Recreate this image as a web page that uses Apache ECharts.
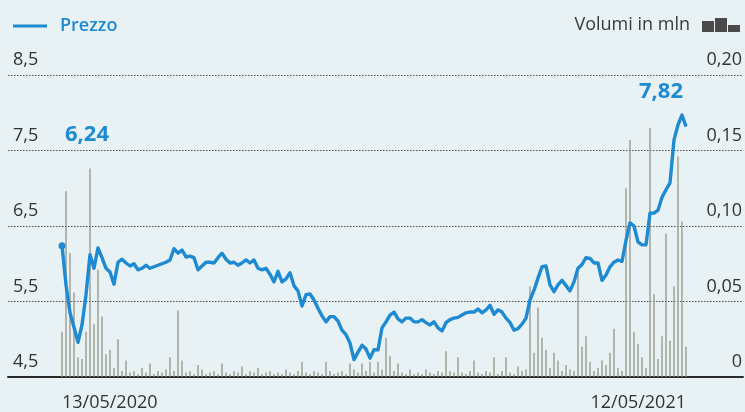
<!DOCTYPE html>
<html>
<head>
<meta charset="utf-8">
<script src="https://cdn.jsdelivr.net/npm/echarts@6/dist/echarts.min.js"></script>
<style>
  html, body { margin: 0; padding: 0; background: #e8f2f4; }
  #chart { width: 745px; height: 412px; }
</style>
</head>
<body>
<div id="chart"></div>
<script>
// Daily closing price (euro) and traded volume (millions of shares)
const prices = [
  6.24, 5.72, 5.35, 5.16, 4.96, 5.19, 5.59, 6.12, 5.94, 6.21,
  6.08, 5.94, 5.89, 5.73, 6.02, 6.06, 6.01, 5.97, 6.00, 5.92,
  5.94, 5.98, 5.94, 5.96, 5.98, 6.00, 6.02, 6.05, 6.20, 6.14,
  6.18, 6.09, 6.10, 6.08, 5.92, 5.97, 6.02, 6.02, 6.01, 6.08,
  6.14, 6.06, 6.01, 6.02, 5.98, 6.01, 6.05, 6.01, 6.05, 5.94,
  5.92, 5.94, 5.86, 5.76, 5.90, 5.76, 5.80, 5.88, 5.71, 5.64,
  5.44, 5.59, 5.60, 5.52, 5.41, 5.31, 5.23, 5.30, 5.30, 5.24,
  5.12, 5.06, 4.95, 4.73, 4.83, 4.92, 4.87, 4.75, 4.86, 4.86,
  5.15, 5.23, 5.32, 5.36, 5.27, 5.23, 5.28, 5.28, 5.23, 5.23,
  5.26, 5.22, 5.19, 5.23, 5.15, 5.11, 5.22, 5.26, 5.28, 5.29,
  5.32, 5.35, 5.36, 5.36, 5.40, 5.35, 5.39, 5.45, 5.33, 5.39,
  5.36, 5.28, 5.22, 5.12, 5.14, 5.20, 5.28, 5.52, 5.65, 5.81,
  5.96, 5.97, 5.72, 5.63, 5.72, 5.78, 5.71, 5.64, 5.76, 5.94,
  5.99, 6.08, 6.07, 6.01, 6.01, 5.78, 5.85, 5.96, 6.02, 6.05,
  6.03, 6.31, 6.54, 6.50, 6.29, 6.25, 6.25, 6.67, 6.67, 6.71,
  6.88, 6.98, 7.07, 7.64, 7.84, 7.97, 7.82
];

const volumes = [
  0.030, 0.123, 0.082, 0.056, 0.013, 0.012, 0.030, 0.138, 0.035, 0.071,
  0.040, 0.015, 0.018, 0.006, 0.025, 0.004, 0.011, 0.003, 0.004, 0.002,
  0.006, 0.003, 0.009, 0.002, 0.004, 0.003, 0.005, 0.013, 0.004, 0.044,
  0.011, 0.003, 0.004, 0.002, 0.008, 0.005, 0.002, 0.003, 0.004, 0.002,
  0.009, 0.003, 0.002, 0.004, 0.003, 0.007, 0.002, 0.004, 0.003, 0.006,
  0.002, 0.003, 0.004, 0.002, 0.003, 0.002, 0.005, 0.003, 0.002, 0.004,
  0.010, 0.003, 0.002, 0.004, 0.003, 0.002, 0.010, 0.004, 0.002, 0.003,
  0.004, 0.002, 0.009, 0.005, 0.003, 0.009, 0.004, 0.010, 0.003, 0.010,
  0.005, 0.026, 0.014, 0.004, 0.009, 0.003, 0.002, 0.005, 0.002, 0.003,
  0.002, 0.005, 0.003, 0.002, 0.004, 0.003, 0.017, 0.004, 0.003, 0.013,
  0.003, 0.002, 0.004, 0.011, 0.003, 0.002, 0.004, 0.003, 0.013, 0.002,
  0.004, 0.013, 0.003, 0.002, 0.007, 0.004, 0.005, 0.060, 0.016, 0.046,
  0.026, 0.018, 0.006, 0.016, 0.011, 0.004, 0.008, 0.005, 0.004, 0.069,
  0.020, 0.027, 0.010, 0.004, 0.006, 0.011, 0.008, 0.016, 0.032, 0.006,
  0.004, 0.125, 0.157, 0.030, 0.022, 0.013, 0.006, 0.165, 0.055, 0.012,
  0.027, 0.095, 0.024, 0.060, 0.146, 0.103, 0.020
];

const dateLabels = ['13/05/2020', '12/05/2021'];
const priceTicks = [4.5, 5.5, 6.5, 7.5, 8.5];
const volumeTicks = [0, 0.05, 0.10, 0.15, 0.20];

const BLUE = '#1e8ad2';
const INK = '#333333';
const FONT = '"Open Sans", "Noto Sans", sans-serif';

const comma = (v, d) => v.toFixed(d).replace('.', ',');
const last = prices.length - 1;

const priceData = prices.map((v, i) => {
  if (i === 0) {
    return {
      value: v, symbol: 'circle', symbolSize: 7,
      label: { show: true, position: 'inside', align: 'left', verticalAlign: 'middle',
               offset: [3, -111], formatter: p => comma(p.value, 2) }
    };
  }
  if (i === last) {
    return {
      value: v, symbol: 'circle', symbolSize: 1,
      label: { show: true, position: 'inside', align: 'right', verticalAlign: 'middle',
               offset: [-3, -35], formatter: p => comma(p.value, 2) }
    };
  }
  return { value: v, symbol: 'none' };
});

const pStep = priceTicks[1] - priceTicks[0];
const vStep = volumeTicks[1] - volumeTicks[0];

const chart = echarts.init(document.getElementById('chart'), null, { renderer: 'canvas' });
chart.setOption({
  animation: false,
  backgroundColor: '#e8f2f4',
  textStyle: { fontFamily: FONT },
  legend: [
    {
      left: 8, top: 12, itemWidth: 34, itemHeight: 3,
      data: [{ name: 'Prezzo', icon: 'rect' }],
      textStyle: { color: BLUE, fontSize: 18, fontWeight: 600, fontFamily: FONT, padding: [0, 0, 0, 8] }
    },
    {
      right: 0, top: 11, align: 'right', itemWidth: 38, itemHeight: 14,
      data: [{
        name: 'Volumi in mln',
        icon: 'path://M0,3H12V14H0Z M13,0H25V14H13Z M26,7H38V14H26Z',
        itemStyle: { color: '#4a4a4a' }
      }],
      textStyle: { color: '#3a3a3a', fontSize: 18, fontFamily: FONT, padding: [0, 7, 0, 0] }
    }
  ],
  grid: [
    { left: 8, right: 0, top: 75, bottom: 35 },
    { left: 62, right: 59, top: 75, bottom: 35 }
  ],
  xAxis: [
    {
      gridIndex: 0, type: 'value', min: 0, max: 1,
      axisLine: { show: true, onZero: false, lineStyle: { color: '#2a2a2a', width: 2 } },
      axisTick: { show: false }, axisLabel: { show: false }, splitLine: { show: false }
    },
    {
      gridIndex: 1, type: 'category', boundaryGap: false,
      data: prices.map((_, i) => i),
      axisLine: { show: false }, axisTick: { show: false }, splitLine: { show: false },
      axisLabel: {
        show: true, color: INK, fontSize: 18, fontFamily: FONT, margin: 17,
        interval: (i) => i === 0 || i === last,
        alignMinLabel: 'left', alignMaxLabel: 'right',
        formatter: (v, i) => (i === 0 ? dateLabels[0] : dateLabels[1])
      }
    }
  ],
  yAxis: [
    {
      gridIndex: 0, type: 'value', position: 'left',
      min: priceTicks[0], max: priceTicks[priceTicks.length - 1], interval: pStep,
      axisLine: { show: false }, axisTick: { show: false },
      axisLabel: { inside: true, margin: 5, verticalAlign: 'bottom', color: INK, fontSize: 18,
                   fontFamily: FONT, padding: [0, 0, 6, 0], formatter: v => comma(v, 1) },
      splitLine: { show: true, lineStyle: { color: '#4d4d4d', width: 1, type: [1.5, 1.5] } }
    },
    {
      gridIndex: 0, type: 'value', position: 'right',
      min: volumeTicks[0], max: volumeTicks[volumeTicks.length - 1], interval: vStep,
      axisLine: { show: false }, axisTick: { show: false },
      axisLabel: { inside: true, margin: 1, verticalAlign: 'bottom', color: INK, fontSize: 18,
                   fontFamily: FONT, padding: [0, 0, 6, 0],
                   formatter: v => (v === 0 ? '0' : comma(v, 2)) },
      splitLine: { show: false }
    },
    {
      gridIndex: 1, type: 'value', show: false,
      min: priceTicks[0], max: priceTicks[priceTicks.length - 1], interval: pStep,
      splitLine: { show: false }
    },
    {
      gridIndex: 1, type: 'value', show: false,
      min: volumeTicks[0], max: volumeTicks[volumeTicks.length - 1], interval: vStep,
      splitLine: { show: false }
    }
  ],
  series: [
    {
      name: 'Volumi in mln', type: 'bar', xAxisIndex: 1, yAxisIndex: 3,
      data: volumes, barWidth: 1.2, z: 2,
      itemStyle: { color: '#8e8d7b' }
    },
    {
      name: 'Prezzo', type: 'line', xAxisIndex: 1, yAxisIndex: 2,
      data: priceData, symbol: 'none', showAllSymbol: true, clip: false, z: 5,
      lineStyle: { color: BLUE, width: 3.4, join: 'round' },
      itemStyle: { color: BLUE },
      label: { color: BLUE, fontSize: 22, fontWeight: 700, fontFamily: FONT },
      emphasis: { disabled: true }
    }
  ]
});
</script>
</body>
</html>
